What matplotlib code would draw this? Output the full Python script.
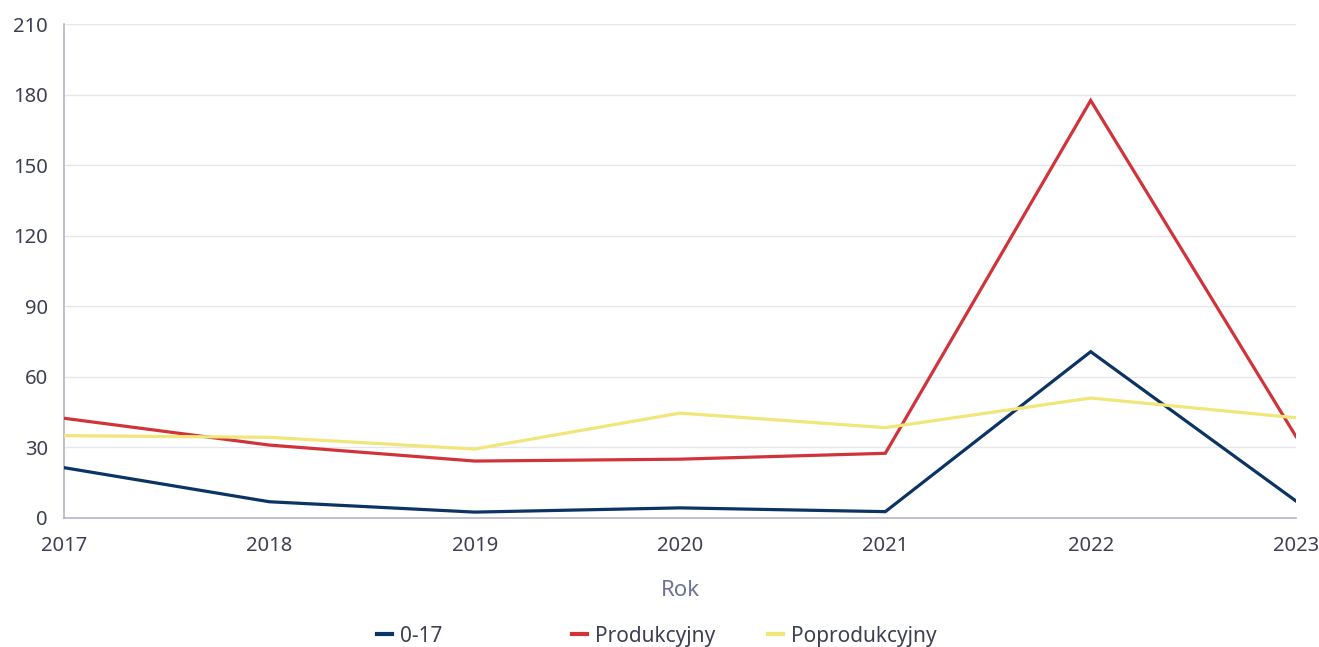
#!/usr/bin/env python3
# -*- coding: utf-8 -*-

import matplotlib
matplotlib.use('Agg')
import matplotlib.pyplot as plt
from matplotlib.lines import Line2D

years = [2017, 2018, 2019, 2020, 2021, 2022, 2023]
young = [21.4, 6.9, 2.5, 4.3, 2.7, 70.7, 7.2]
working = [42.4, 31.0, 24.2, 25.0, 27.5, 177.5, 34.6]
retired = [35.0, 34.3, 29.3, 44.6, 38.4, 51.0, 42.6]

series = [
    ('0-17', young, '#0b3464'),
    ('Produkcyjny', working, '#d0333a'),
    ('Poprodukcyjny', retired, '#f0e67a'),
]

plt.rcParams['font.family'] = ['Noto Sans', 'DejaVu Sans']
text_c = '#3d3f52'


def main():
    fig = plt.figure(figsize=(13.19, 6.47), dpi=100)
    ax = fig.add_axes([0.0485, 0.1994, 0.9341, 0.7635])

    for label, vals, col in series:
        ax.plot(years, vals, color=col, lw=2.3, label=label,
                solid_joinstyle='miter', zorder=3)

    ax.set_xlim(2017, 2023)
    ax.set_ylim(0, 210)
    ax.set_xticks(years)
    ax.set_yticks(range(0, 211, 30))
    ax.grid(axis='y', color='#e6e6ee', lw=1)
    ax.set_axisbelow(True)
    for s in ['top', 'right']:
        ax.spines[s].set_visible(False)
    for s in ['left', 'bottom']:
        ax.spines[s].set_color('#b4b6cc')
        ax.spines[s].set_linewidth(1.2)
    ax.tick_params(length=0, labelsize=14.5, colors=text_c)
    ax.tick_params(axis='x', pad=13)
    ax.tick_params(axis='y', pad=11.5)
    ax.set_xlabel('Rok', fontsize=16, color='#6e7299', labelpad=17)

    # one legend per entry, fixed spacing like the original
    xs = [0.2858, 0.4337, 0.5823]
    for (label, vals, col), x in zip(series, xs):
        h = Line2D([], [], color=col, lw=3)
        fig.legend(handles=[h], labels=[label], loc='center left',
                   bbox_to_anchor=(x, 0.017), frameon=False, fontsize=15,
                   borderpad=0, borderaxespad=0,
                   handlelength=0.72, handletextpad=0.4, labelcolor=text_c)

    fig.savefig('out.png', dpi=100)


if __name__ == '__main__':
    main()
